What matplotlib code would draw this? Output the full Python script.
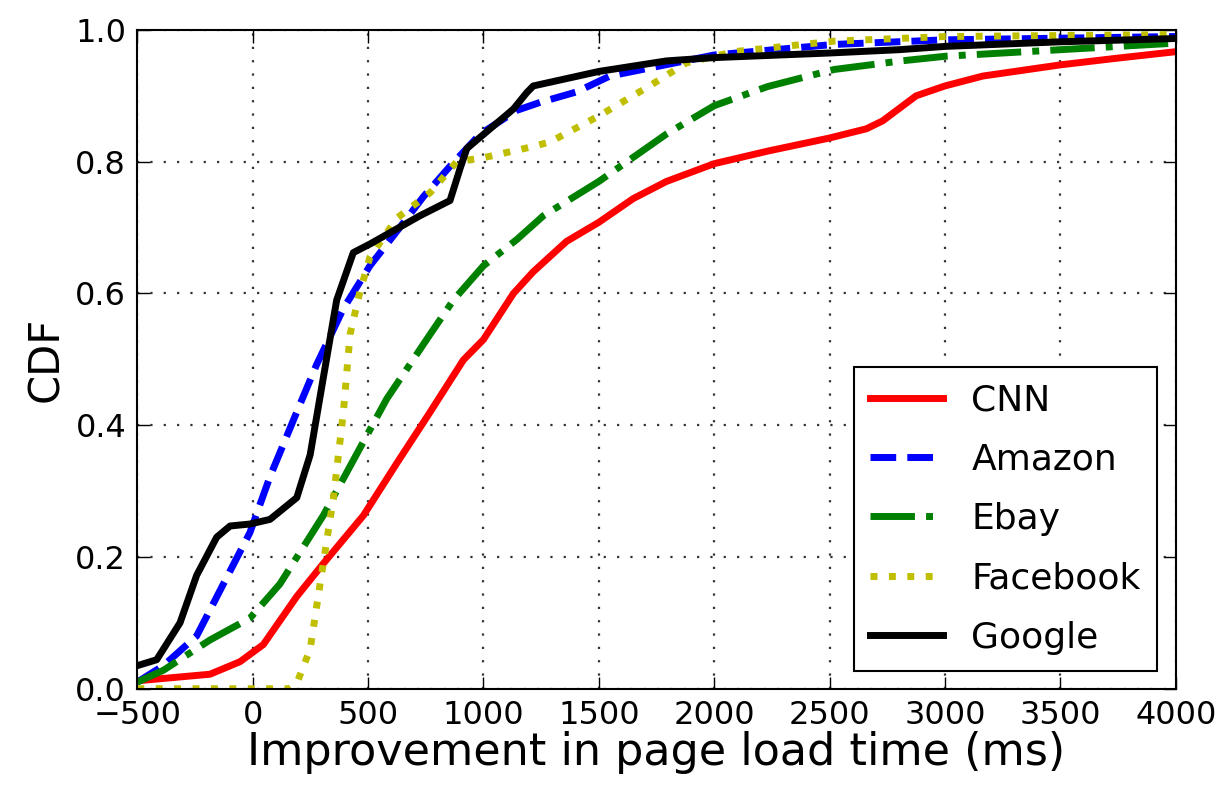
import matplotlib
matplotlib.use("Agg")
import matplotlib.pyplot as plt

# CDF curves (x in ms, y = CDF)
cnn_x = [-500, -185, -55, 46, 191, 306, 480, 624, 769, 913, 1000, 1130, 1216, 1360, 1500, 1649, 1793, 2000,
         2231, 2500, 2660, 2730, 2875, 3000, 3164, 3500, 3743, 4000]
cnn_y = [0.012, 0.022, 0.041, 0.067, 0.14, 0.19, 0.263, 0.342, 0.42, 0.499, 0.53, 0.6, 0.633, 0.679, 0.708,
         0.744, 0.77, 0.797, 0.816, 0.836, 0.85, 0.862, 0.9, 0.915, 0.93, 0.947, 0.957, 0.967]

amazon_x = [-500, -387, -243, -127, -12, 75, 191, 277, 393, 508, 624, 740, 855, 986, 1145, 1245, 1404, 1548,
            2000, 2520, 3000, 4000]
amazon_y = [0.01, 0.035, 0.08, 0.159, 0.237, 0.322, 0.42, 0.492, 0.577, 0.642, 0.694, 0.747, 0.793, 0.842,
            0.878, 0.89, 0.906, 0.93, 0.962, 0.978, 0.985, 0.99]

ebay_x = [-500, -387, -185, -12, 118, 306, 480, 581, 769, 870, 1000, 1145, 1260, 1500, 1793, 2000, 2231, 2520,
          2810, 3000, 3500, 4000]
ebay_y = [0.01, 0.028, 0.074, 0.107, 0.159, 0.263, 0.375, 0.44, 0.538, 0.59, 0.642, 0.682, 0.718, 0.77,
          0.842, 0.885, 0.914, 0.94, 0.953, 0.96, 0.97, 0.98]

facebook_x = [-500, 162, 191, 249, 292, 350, 393, 422, 465, 508, 624, 769, 884, 1000, 1202, 1289, 1503, 1720,
              1879, 2087, 2520, 3000, 4000]
facebook_y = [0.0, 0.0, 0.008, 0.06, 0.159, 0.29, 0.42, 0.538, 0.603, 0.655, 0.714, 0.753, 0.8, 0.806, 0.822,
              0.83, 0.87, 0.915, 0.95, 0.967, 0.983, 0.99, 0.993]

google_x = [-500, -416, -315, -243, -156, -98, -12, 75, 191, 249, 306, 364, 436, 508, 624, 725, 855, 899, 928,
            1029, 1130, 1188, 1216, 1500, 1793, 2000, 2500, 2800, 3000, 3500, 4000]
google_y = [0.035, 0.044, 0.10, 0.172, 0.23, 0.247, 0.25, 0.257, 0.29, 0.355, 0.472, 0.59, 0.662, 0.675,
            0.698, 0.718, 0.741, 0.79, 0.82, 0.85, 0.88, 0.905, 0.915, 0.937, 0.953, 0.958, 0.965, 0.97,
            0.975, 0.982, 0.987]

fig = plt.figure(figsize=(12.26, 7.88), dpi=100)
ax = fig.add_axes([0.112, 0.126, 0.847, 0.836])

ax.plot(cnn_x, cnn_y, color="red", linestyle="-", linewidth=5, label="CNN")
ax.plot(amazon_x, amazon_y, color="blue", linestyle="--", linewidth=5, label="Amazon")
ax.plot(ebay_x, ebay_y, color="green", linestyle="-.", linewidth=5, label="Ebay")
ax.plot(facebook_x, facebook_y, color="y", linestyle=":", linewidth=5, label="Facebook")
ax.plot(google_x, google_y, color="black", linestyle="-", linewidth=5, label="Google")

ax.set_xlim(-500, 4000)
ax.set_ylim(0, 1.0)
ax.set_xticks(range(-500, 4001, 500))
ax.set_yticks([0.0, 0.2, 0.4, 0.6, 0.8, 1.0])
ax.set_xticklabels(["\u2212500", "0", "500", "1000", "1500", "2000", "2500", "3000", "3500", "4000"])
ax.tick_params(direction="in", length=9, width=1, labelsize=23, top=True, right=True, pad=8)
ax.grid(True, linestyle=(0, (1, 5)), color="#333333", linewidth=1.6)
for s in ax.spines.values():
    s.set_linewidth(1.5)

ax.set_xlabel("Improvement in page load time (ms)", fontsize=32, labelpad=0)
ax.set_ylabel("CDF", fontsize=30, labelpad=6)

leg = ax.legend(loc="lower right", fontsize=26, fancybox=False, framealpha=1, edgecolor="black",
                handlelength=2.0, borderpad=0.45, labelspacing=0.7, handletextpad=0.8,
                borderaxespad=0, bbox_to_anchor=(0.982, 0.027))
leg.get_frame().set_linewidth(1.5)

fig.savefig("out.png", dpi=100)
